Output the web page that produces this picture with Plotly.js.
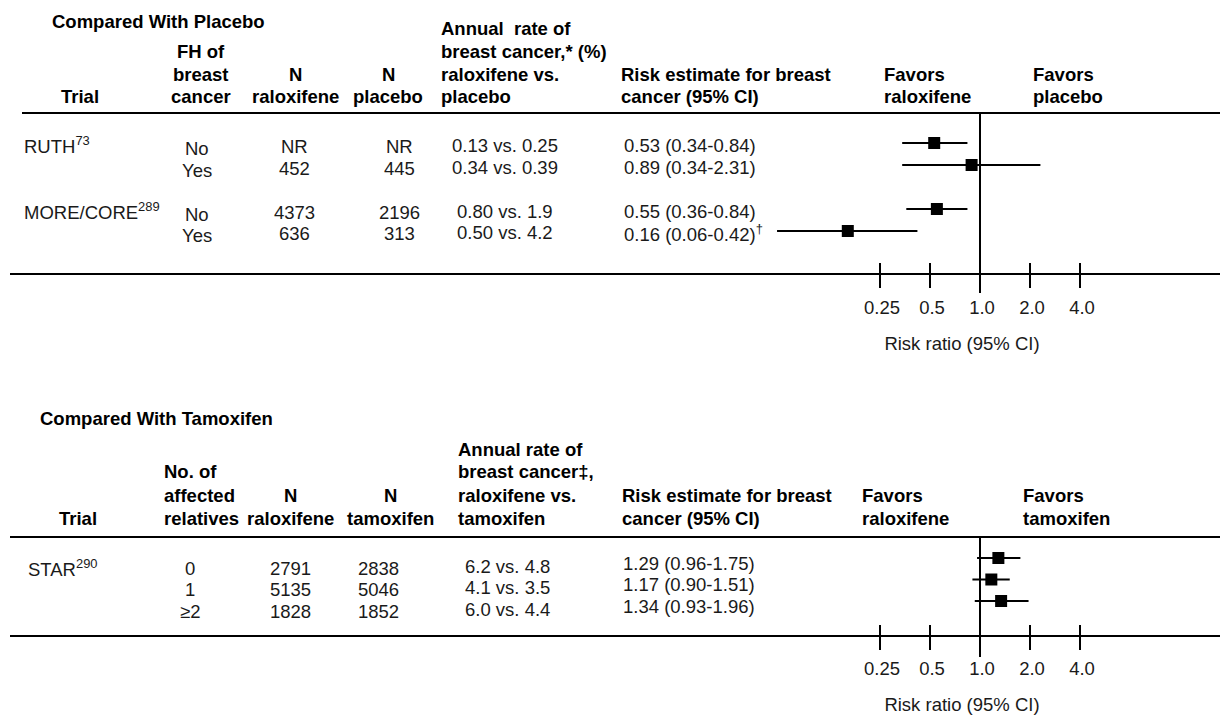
<!DOCTYPE html>
<html><head><meta charset="utf-8">
<script src="https://cdn.plot.ly/plotly-3.0.1.min.js"></script>
<style>html,body{margin:0;padding:0;background:#fff;} #chart{width:1220px;height:718px;}</style>
</head><body><div id="chart"></div>
<script>
// ---------- data ----------
const placeboTrials = ["RUTH", "RUTH", "MORE/CORE", "MORE/CORE"];
const placeboTrialRefs = ["73", "73", "289", "289"];
const placeboFH = ["No", "Yes", "No", "Yes"];
const placeboNRaloxifene = ["NR", "452", "4373", "636"];
const placeboNPlacebo = ["NR", "445", "2196", "313"];
const placeboAnnualRates = ["0.13 vs. 0.25", "0.34 vs. 0.39", "0.80 vs. 1.9", "0.50 vs. 4.2"];
const placeboRR = [0.53, 0.89, 0.55, 0.16];
const placeboLow = [0.34, 0.34, 0.36, 0.06];
const placeboHigh = [0.84, 2.31, 0.84, 0.42];
const placeboNotes = ["", "", "", "†"];

const tamoxTrials = ["STAR", "STAR", "STAR"];
const tamoxTrialRefs = ["290", "290", "290"];
const tamoxRelatives = ["0", "1", "≥2"];
const tamoxNRaloxifene = ["2791", "5135", "1828"];
const tamoxNTamoxifen = ["2838", "5046", "1852"];
const tamoxAnnualRates = ["6.2 vs. 4.8", "4.1 vs. 3.5", "6.0 vs. 4.4"];
const tamoxRR = [1.29, 1.17, 1.34];
const tamoxLow = [0.96, 0.90, 0.93];
const tamoxHigh = [1.75, 1.51, 1.96];
const tamoxNotes = ["", "", ""];

const tickValues = [0.25, 0.5, 1, 2, 4];
const tickLabels = ["0.25", "0.5", "1.0", "2.0", "4.0"];
const nullRatio = 1;

const placeboHeaders = [
  ["Trial"], ["FH of", "breast", "cancer"], ["N", "raloxifene"], ["N", "placebo"],
  ["Annual  rate of", "breast cancer,* (%)", "raloxifene vs.", "placebo"],
  ["Risk estimate for breast", "cancer (95% CI)"], ["Favors", "raloxifene"], ["Favors", "placebo"]
];
const tamoxHeaders = [
  ["Trial"], ["No. of", "affected", "relatives"], ["N", "raloxifene"], ["N", "tamoxifen"],
  ["Annual rate of", "breast cancer‡,", "raloxifene vs.", "tamoxifen"],
  ["Risk estimate for breast", "cancer (95% CI)"], ["Favors", "raloxifene"], ["Favors", "tamoxifen"]
];
const placeboTitle = "Compared With Placebo";
const tamoxTitle = "Compared With Tamoxifen";
const axisTitle = "Risk ratio (95% CI)";

// ---------- layout helpers ----------
const W = 1220, H = 718;
const X = p => p / W;
const Y = p => 1 - p / H;
const FONT = "Liberation Sans, Arial, sans-serif";
const FS = 18.5;
const TXT = "#1a1a1a";

function fmt(v) { return v.toFixed(2); }
function estText(rr, lo, hi, note) {
  return fmt(rr) + " (" + fmt(lo) + "-" + fmt(hi) + ")" + (note ? "<sup>" + note + "</sup>" : "");
}

function buildCats(trials, sub) {
  const keys = trials.map((t, i) => t + " " + sub[i]);
  const cats = [];
  keys.forEach((k, i) => {
    if (i > 0 && trials[i] !== trials[i - 1]) cats.push(" ");
    cats.push(k);
  });
  return { keys, cats };
}
const P = buildCats(placeboTrials, placeboFH);
const T = buildCats(tamoxTrials, tamoxRelatives);

const annotations = [];
function addText(text, x, y, o) {
  annotations.push(Object.assign({
    text, x: X(x), y, xref: "paper", yref: "paper", showarrow: false,
    xanchor: "left", yanchor: "middle",
    font: { family: FONT, size: FS, color: TXT }
  }, o || {}));
}
const boldFont = { family: FONT, size: FS, color: "#000" };

// section titles
addText("<b>" + placeboTitle + "</b>", 50, Y(21), { font: boldFont });
addText("<b>" + tamoxTitle + "</b>", 38, Y(418), { font: boldFont });

// header columns: [x, anchor]
function addHeaders(headers, cols, lastY, step) {
  headers.forEach((lines, c) => {
    const [x, anchor] = cols[c];
    lines.forEach((ln, j) => {
      const y = lastY - (lines.length - 1 - j) * step;
      addText("<b>" + ln + "</b>", x, Y(y), { xanchor: anchor, font: boldFont });
    });
  });
}
addHeaders(placeboHeaders, [
  [80, "center"], [201, "center"], [295, "center"], [388, "center"],
  [439, "left"], [619, "left"], [882, "left"], [1031, "left"]
], 97, 22.7);
addHeaders(tamoxHeaders, [
  [78, "center"], [162, "left"], [290, "center"], [390, "center"],
  [456, "left"], [620, "left"], [860, "left"], [1021, "left"]
], 518, 23);

// body rows
function addRows(spec) {
  const { keys, cats, yref, trials, refs, cols, colX, riskX, trialX, trialShift, shift, riskShift, rr, lo, hi, notes } = spec;
  keys.forEach((k, i) => {
    const yi = cats.indexOf(k);
    const base = { yref, y: yi };
    if (i === 0 || trials[i] !== trials[i - 1]) {
      addText(trials[i] + "<sup>" + refs[i] + "</sup>", trialX, yi,
        Object.assign({}, base, { yshift: trialShift }));
    }
    cols.forEach((arr, c) => {
      addText(arr[i], colX[c], yi, Object.assign({}, base, { xanchor: "center", yshift: shift[c] }));
    });
    addText(estText(rr[i], lo[i], hi[i], notes[i]), riskX, yi,
      Object.assign({}, base, { yshift: riskShift }));
  });
}
addRows({
  keys: P.keys, cats: P.cats, yref: "y", trials: placeboTrials, refs: placeboTrialRefs,
  cols: [placeboFH, placeboNRaloxifene, placeboNPlacebo, placeboAnnualRates],
  colX: [197, 294, 399, 505], shift: [-5, -3, -3, -2], riskX: 622, trialX: 22, trialShift: -2, riskShift: -2,
  rr: placeboRR, lo: placeboLow, hi: placeboHigh, notes: placeboNotes
});
addRows({
  keys: T.keys, cats: T.cats, yref: "y2", trials: tamoxTrials, refs: tamoxTrialRefs,
  cols: [tamoxRelatives, tamoxNRaloxifene, tamoxNTamoxifen, tamoxAnnualRates],
  colX: [190, 290, 378, 507], shift: [-10, -10, -10, -8], riskX: 621, trialX: 26, trialShift: -10, riskShift: -5,
  rr: tamoxRR, lo: tamoxLow, hi: tamoxHigh, notes: tamoxNotes
});

// ---------- traces ----------
function forest(rr, lo, hi, keys, xa, ya) {
  return {
    type: "scatter", mode: "markers", x: rr, y: keys, xaxis: xa, yaxis: ya,
    marker: { symbol: "square", size: 12, color: "#000" },
    error_x: {
      type: "data", symmetric: false,
      array: rr.map((v, i) => hi[i] - v), arrayminus: rr.map((v, i) => v - lo[i]),
      color: "#000", thickness: 2, width: 0
    },
    hoverinfo: "x", cliponaxis: false
  };
}
const data = [
  forest(placeboRR, placeboLow, placeboHigh, P.keys, "x", "y"),
  forest(tamoxRR, tamoxLow, tamoxHigh, T.keys, "x2", "y2"),
  { type: "scatter", x: [], y: [], xaxis: "x3", yaxis: "y", hoverinfo: "skip" },
  { type: "scatter", x: [], y: [], xaxis: "x4", yaxis: "y2", hoverinfo: "skip" }
];

// ---------- axes ----------
const xRange = [-1.3124, 1.0956];
const xDomain = [X(762), X(1162)];
function xAxis(anchor, labelStandoff, titleStandoff) {
  return {
    type: "log", range: xRange, domain: xDomain, anchor,
    tickvals: tickValues, ticktext: tickLabels,
    showgrid: false, zeroline: false, showline: false,
    ticks: "outside", ticklen: 13, tickwidth: 2, tickcolor: "#000",
    tickfont: { family: FONT, size: FS, color: TXT },
    ticklabelshift: 2, ticklabelstandoff: labelStandoff,
    title: { text: axisTitle, font: { family: FONT, size: FS, color: TXT }, standoff: titleStandoff },
    fixedrange: true
  };
}
function xTickAxis(over, anchor) {
  return {
    type: "log", range: xRange, overlaying: over, anchor, side: "bottom",
    tickvals: tickValues, showticklabels: false,
    showgrid: false, zeroline: false, showline: false,
    ticks: "inside", ticklen: 11, tickwidth: 2, tickcolor: "#000", fixedrange: true
  };
}
function yAxis(cats, domain, range) {
  return {
    type: "category", categoryorder: "array", categoryarray: cats,
    domain, range, visible: false, showticklabels: false, fixedrange: true
  };
}

const line = (x0, y0, x1, y1, xref) => ({
  type: "line", xref: xref || "paper", yref: "paper", x0, y0, x1, y1,
  line: { color: "#000", width: 2 }
});

const layout = {
  width: W, height: H, margin: { l: 0, r: 0, t: 0, b: 0 },
  paper_bgcolor: "#fff", plot_bgcolor: "rgba(0,0,0,0)", showlegend: false,
  xaxis: xAxis("y", 4, 19),
  xaxis2: xAxis("y2", 3, 19),
  xaxis3: xTickAxis("x", "y"),
  xaxis4: xTickAxis("x2", "y2"),
  yaxis: yAxis(P.cats, [Y(274), Y(113)], [5.955, -1.364]),
  yaxis2: yAxis(T.cats, [Y(636), Y(537)], [3.628, -0.977]),
  shapes: [
    line(X(22), Y(113), 1, Y(113)),
    line(X(10), Y(274), 1, Y(274)),
    line(X(10), Y(537), 1, Y(537)),
    line(X(10), Y(636), 1, Y(636)),
    line(nullRatio, Y(113), nullRatio, Y(293), "x"),
    line(nullRatio, Y(537), nullRatio, Y(657), "x2")
  ],
  annotations
};

Plotly.newPlot("chart", data, layout, { displayModeBar: false, staticPlot: true });
</script>
</body></html>
